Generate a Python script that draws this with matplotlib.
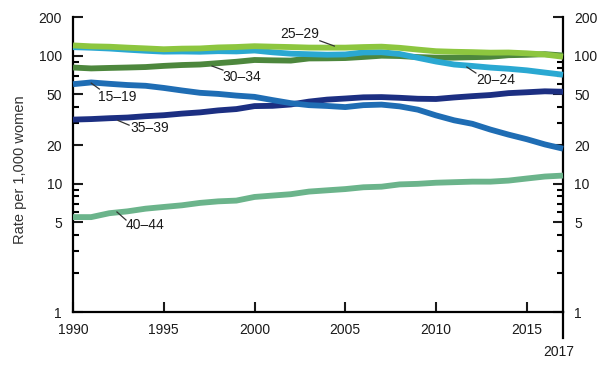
import matplotlib
matplotlib.use("Agg")
import matplotlib.pyplot as plt
from matplotlib.ticker import FixedLocator, NullFormatter, FixedFormatter

plt.rcParams['font.family'] = ['Liberation Sans', 'DejaVu Sans']

years = list(range(1990, 2018))
r15_19 = [59.9, 61.8, 60.3, 59.0, 58.2, 56.0, 53.5, 51.3, 50.3, 48.8, 47.7, 45.0, 42.6, 41.1,
          40.5, 39.7, 41.1, 41.5, 40.2, 37.9, 34.2, 31.3, 29.4, 26.5, 24.2, 22.3, 20.3, 18.8]
r20_24 = [116.5, 115.3, 113.7, 111.3, 109.2, 107.5, 107.8, 107.3, 108.4, 107.9, 109.7, 106.2, 103.6, 102.6,
          101.7, 102.2, 105.9, 106.3, 103.0, 96.2, 90.0, 85.3, 83.1, 80.7, 79.0, 76.8, 73.8, 71.0]
r25_29 = [120.2, 118.2, 117.4, 115.5, 113.9, 112.2, 113.4, 113.8, 115.9, 116.8, 118.5, 117.5, 116.7, 115.6,
          115.5, 115.5, 116.7, 117.5, 115.1, 111.5, 108.3, 107.2, 106.5, 105.5, 105.8, 104.3, 102.1, 98.0]
r30_34 = [80.8, 79.5, 80.2, 80.8, 81.5, 83.2, 84.5, 85.3, 87.4, 89.6, 92.5, 91.9, 91.5, 95.1,
          95.3, 95.8, 97.7, 99.9, 99.3, 97.5, 96.5, 96.5, 97.3, 98.0, 100.8, 101.5, 102.7, 100.3]
r35_39 = [31.7, 32.0, 32.5, 32.9, 33.7, 34.3, 35.3, 36.1, 37.4, 38.3, 40.4, 40.6, 41.6, 43.8,
          45.4, 46.3, 47.3, 47.5, 46.9, 46.1, 45.9, 47.2, 48.3, 49.3, 51.0, 51.8, 52.7, 52.3]
r40_44 = [5.5, 5.5, 5.9, 6.1, 6.4, 6.6, 6.8, 7.1, 7.3, 7.4, 7.9, 8.1, 8.3, 8.7,
          8.9, 9.1, 9.4, 9.5, 9.9, 10.0, 10.2, 10.3, 10.4, 10.4, 10.6, 11.0, 11.4, 11.6]

series = [
    ("40\u201344", r40_44, "#6bb48b"),
    ("35\u201339", r35_39, "#1c2f82"),
    ("15\u201319", r15_19, "#1f6db4"),
    ("30\u201334", r30_34, "#4d873d"),
    ("20\u201324", r20_24, "#2aa8d2"),
    ("25\u201329", r25_29, "#8dc63f"),
]

# label text centre, leader start (on curve), leader end (near text)
labels = {
    "15\u201319": ((1992.45, 47.5), (1991.0, 61.1), (1991.45, 54.9)),
    "20\u201324": ((2013.3, 64.5), (2011.7, 81.5), (2012.2, 73.2)),
    "25\u201329": ((2002.5, 147.0), (2004.4, 118.8), (2003.6, 130.7)),
    "30\u201334": ((1999.3, 68.0), (1997.66, 83.0), (1998.26, 77.2)),
    "35\u201339": ((1994.24, 27.2), (1992.48, 31.2), (1993.09, 28.7)),
    "40\u201344": ((1993.97, 4.77), (1992.42, 6.03), (1992.92, 5.22)),
}

yticks_major = [1, 5, 10, 20, 50, 100, 200]
yticks_minor = [2, 3, 4, 6, 7, 8, 9, 30, 40, 60, 70, 80, 90]
xticks = [1990, 1995, 2000, 2005, 2010, 2015]

fig = plt.figure(figsize=(6.05, 3.71), dpi=100)
ax = fig.add_axes([0.1207, 0.159, 0.8099, 0.795])

for name, vals, col in series:
    ax.plot(years, vals, color=col, lw=4.2, solid_capstyle='butt', solid_joinstyle='round', clip_on=False, zorder=3)

ax.set_yscale('log')
ax.set_ylim(1, 200)
ax.set_xlim(1990, 2017)
ax.yaxis.set_major_locator(FixedLocator(yticks_major))
ax.yaxis.set_minor_locator(FixedLocator(yticks_minor))
ax.yaxis.set_major_formatter(FixedFormatter([str(v) for v in yticks_major]))
ax.yaxis.set_minor_formatter(NullFormatter())
ax.set_xticks(xticks)
ax.set_xticklabels([str(v) for v in xticks])

ax.tick_params(axis='y', which='major', direction='in', length=7, width=1.5, left=True, right=True,
               labelleft=True, labelright=True, labelsize=10, pad=8, colors='#1a1a1a')
ax.tick_params(axis='y', which='minor', direction='in', length=4.5, width=1.5, left=True, right=True)
ax.tick_params(axis='x', which='major', direction='in', length=7, width=1.5, labelsize=10, pad=8, colors='#1a1a1a')

for s in ['left', 'right', 'bottom']:
    ax.spines[s].set_linewidth(1.6)
    ax.spines[s].set_color('black')
ax.spines['top'].set_visible(False)

# extended 2017 marker below axis
ax.plot([2017, 2017], [0, -0.088], transform=ax.get_xaxis_transform(), color='black', lw=1.6, clip_on=False)
ax.text(2016.75, -0.136, "2017", transform=ax.get_xaxis_transform(), ha='center', va='center', fontsize=10, color='#1a1a1a')

fig.text(20 / 605, 1 - 170 / 371, "Rate per 1,000 women", rotation=90, fontsize=10.5, color='#333333',
         ha='center', va='center')

for name, vals, col in series:
    (tx, ty), (sx, sy), (ex, ey) = labels[name]
    ax.plot([sx, ex], [sy, ey], color='#333333', lw=0.9, zorder=5, clip_on=False)
    ax.text(tx, ty, name, fontsize=10, color='#1a1a1a', ha='center', va='center', zorder=5)

fig.savefig("out.png", dpi=100)
